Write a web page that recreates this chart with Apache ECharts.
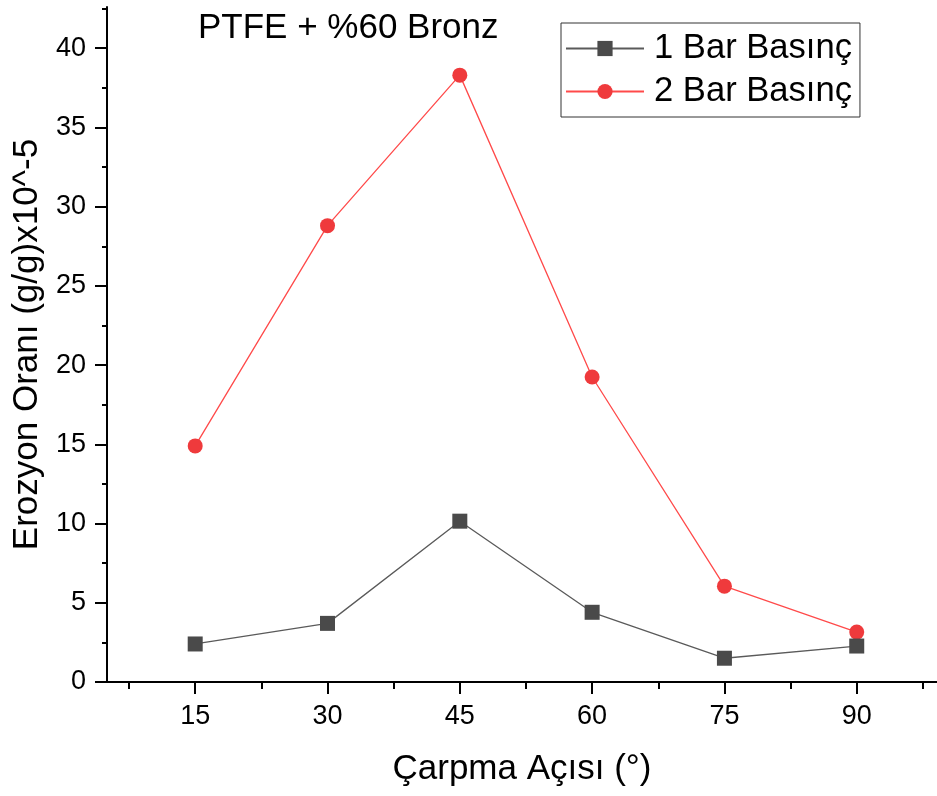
<!DOCTYPE html>
<html>
<head>
<meta charset="utf-8">
<script src="https://cdn.jsdelivr.net/npm/echarts@6/dist/echarts.min.js"></script>
<style>
html,body{margin:0;padding:0;background:#fff;}
#chart{width:937px;height:796px;}
</style>
</head>
<body>
<div id="chart"></div>
<script>
const angles = [15, 30, 45, 60, 75, 90];
const bar1Values = [2.4, 3.7, 10.15, 4.4, 1.5, 2.27];
const bar2Values = [14.9, 28.8, 38.3, 19.25, 6.05, 3.15];
const seriesNames = ['1 Bar Basınç', '2 Bar Basınç'];
const xMajorTicks = [15, 30, 45, 60, 75, 90];
const xMinorTicks = [7.5, 22.5, 37.5, 52.5, 67.5, 82.5, 97.5];
const yMajorTicks = [0, 5, 10, 15, 20, 25, 30, 35, 40];
const yMinorTicks = [2.5, 7.5, 12.5, 17.5, 22.5, 27.5, 32.5, 37.5, 42.5];

const FONT = "'Liberation Sans', Arial, sans-serif";
const chart = echarts.init(document.getElementById('chart'), null, {renderer: 'canvas'});

const xBase = {
  type: 'value', min: 5, max: 99.1, gridIndex: 0, position: 'bottom',
  splitLine: {show: false}
};
const yBase = {
  type: 'value', min: 0, max: 42.6, gridIndex: 0, position: 'left',
  splitLine: {show: false}
};

chart.setOption({
  backgroundColor: '#fff',
  animation: false,
  title: {
    text: 'PTFE + %60 Bronz', left: 198, top: 11, padding: 0,
    textStyle: {fontFamily: FONT, fontSize: 35, fontWeight: 'normal', color: '#000'}
  },
  legend: {
    orient: 'vertical', left: 561, top: 23,
    padding: [8, 8, 8, 4], itemGap: 8,
    itemWidth: 78, itemHeight: 19,
    borderColor: '#333', borderWidth: 1,
    textStyle: {fontFamily: FONT, fontSize: 34.6, color: '#000', lineHeight: 34, padding: [0, 0, 0, 5]},
    data: seriesNames
  },
  grid: {left: 107, right: 0, top: 7, bottom: 114, containLabel: false},
  xAxis: [
    Object.assign({}, xBase, {
      name: 'Çarpma Açısı (°)', nameLocation: 'middle', nameGap: 70,
      nameTextStyle: {fontFamily: FONT, fontSize: 35, color: '#000'},
      axisLine: {show: true, onZero: false, lineStyle: {color: '#000', width: 2}},
      axisTick: {show: true, length: 12, lineStyle: {color: '#000', width: 2}, customValues: xMajorTicks},
      axisLabel: {show: true, margin: 21, fontFamily: FONT, fontSize: 27, color: '#000', customValues: xMajorTicks}
    }),
    Object.assign({}, xBase, {
      axisLine: {show: false},
      axisTick: {show: true, length: 7, lineStyle: {color: '#000', width: 2}, customValues: xMinorTicks},
      axisLabel: {show: false}
    })
  ],
  yAxis: [
    Object.assign({}, yBase, {
      name: 'Erozyon Oranı (g/g)x10^-5', nameLocation: 'middle', nameGap: 62,
      nameTextStyle: {fontFamily: FONT, fontSize: 35, color: '#000'},
      axisLine: {show: true, onZero: false, lineStyle: {color: '#000', width: 2}},
      axisTick: {show: true, length: 12, lineStyle: {color: '#000', width: 2}, customValues: yMajorTicks},
      axisLabel: {show: true, margin: 21, fontFamily: FONT, fontSize: 27, color: '#000', customValues: yMajorTicks}
    }),
    Object.assign({}, yBase, {
      axisLine: {show: false},
      axisTick: {show: true, length: 5, lineStyle: {color: '#000', width: 2}, customValues: yMinorTicks},
      axisLabel: {show: false}
    })
  ],
  series: [
    {
      name: seriesNames[0], type: 'line', xAxisIndex: 0, yAxisIndex: 0, z: 3,
      data: angles.map((a, i) => [a, bar1Values[i]]),
      symbol: 'rect', symbolSize: 15,
      lineStyle: {color: '#5a5a5a', width: 1.3},
      itemStyle: {color: '#4a4a4a'}
    },
    {
      name: seriesNames[1], type: 'line', xAxisIndex: 0, yAxisIndex: 0, z: 2,
      data: angles.map((a, i) => [a, bar2Values[i]]),
      symbol: 'circle', symbolSize: 15,
      lineStyle: {color: '#ff4a4a', width: 1.3},
      itemStyle: {color: '#ef3a3c'}
    }
  ]
});
</script>
</body>
</html>
